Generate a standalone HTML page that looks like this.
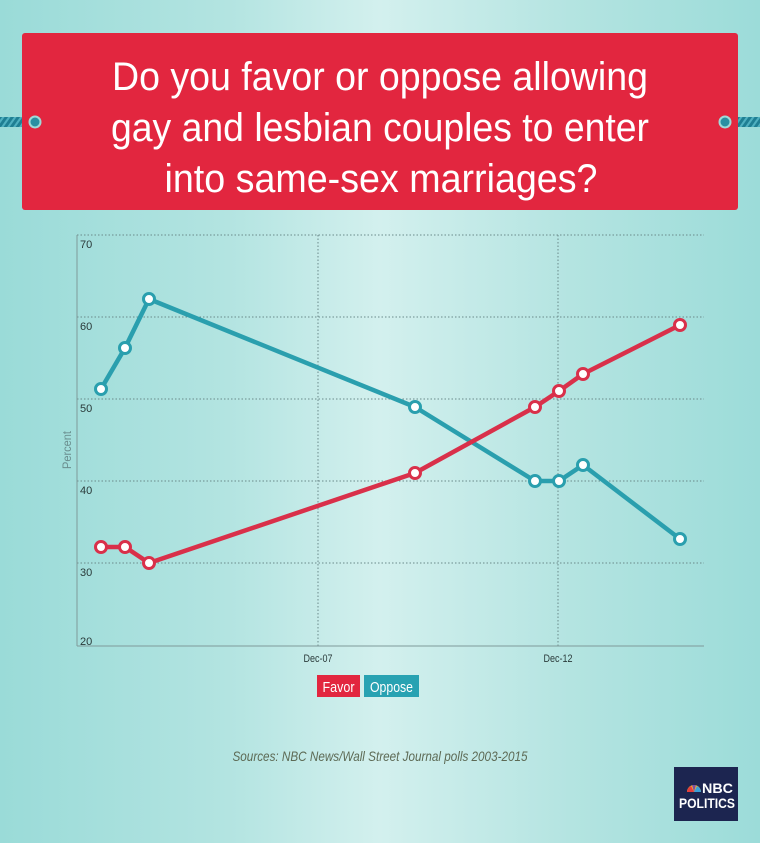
<!DOCTYPE html>
<html><head><meta charset="utf-8"><style>
html,body{margin:0;padding:0}
body{width:760px;height:843px;overflow:hidden;background:linear-gradient(90deg,#9adbd8 0%,#b3e4e1 30%,#d3f0ee 50%,#b4e4e1 75%,#9cdcd9 100%);font-family:"Liberation Sans",sans-serif}
</style></head><body>
<svg width="760" height="843" viewBox="0 0 760 843" xmlns="http://www.w3.org/2000/svg" style="position:absolute;left:0;top:0">
<defs>
<pattern id="rope" width="6" height="10" patternUnits="userSpaceOnUse" patternTransform="skewX(-35)">
<rect width="6" height="10" fill="#1f7f93"/><rect width="2.5" height="10" fill="#4fb0c0"/>
</pattern>
</defs>
<rect x="0" y="117" width="34" height="10" fill="url(#rope)"/>
<rect x="726" y="117" width="34" height="10" fill="url(#rope)"/>
<rect x="22" y="33" width="716" height="177" rx="3" fill="#e2263f"/>
<circle cx="35" cy="122" r="5.5" fill="#2a8fa2" stroke="#9fdad8" stroke-width="2"/>
<circle cx="725" cy="122" r="5.5" fill="#2a8fa2" stroke="#9fdad8" stroke-width="2"/>
<g fill="#fff" font-size="40" text-anchor="middle" font-family="Liberation Sans Narrow, Liberation Sans, sans-serif">
<text x="380" y="90" textLength="536" lengthAdjust="spacingAndGlyphs">Do you favor or oppose allowing</text>
<text x="380" y="141" textLength="538" lengthAdjust="spacingAndGlyphs">gay and lesbian couples to enter</text>
<text x="381" y="192" textLength="433" lengthAdjust="spacingAndGlyphs">into same-sex marriages?</text>
</g>
<g stroke="#6a8a8a" stroke-width="1" stroke-dasharray="1.5,2" fill="none">
<line x1="77" y1="235" x2="704" y2="235"/>
<line x1="77" y1="317" x2="704" y2="317"/>
<line x1="77" y1="399" x2="704" y2="399"/>
<line x1="77" y1="481" x2="704" y2="481"/>
<line x1="77" y1="563" x2="704" y2="563"/>
<line x1="318" y1="235" x2="318" y2="646"/>
<line x1="558" y1="235" x2="558" y2="646"/>
</g>
<line x1="77" y1="235" x2="77" y2="646" stroke="#7f9a9a" stroke-width="1"/>
<line x1="77" y1="646" x2="704" y2="646" stroke="#7f9a9a" stroke-width="1"/>
<g font-size="11" fill="#2a3a3a" font-family="Liberation Sans Narrow, Liberation Sans, sans-serif">
<text x="80" y="248">70</text><text x="80" y="330">60</text><text x="80" y="412">50</text>
<text x="80" y="494">40</text><text x="80" y="576">30</text><text x="80" y="645">20</text>
<text x="318" y="662" text-anchor="middle" textLength="29" lengthAdjust="spacingAndGlyphs">Dec-07</text>
<text x="558" y="662" text-anchor="middle" textLength="29" lengthAdjust="spacingAndGlyphs">Dec-12</text>
</g>
<text x="0" y="0" transform="translate(71,450) rotate(-90)" text-anchor="middle" font-size="12" fill="#6a8e8e" textLength="38" lengthAdjust="spacingAndGlyphs">Percent</text>
<polyline fill="none" stroke="#2a9fae" stroke-width="4.5" stroke-linejoin="round" points="101,389 125,348 149,299 415,407 535,481 559,481 583,465 680,539"/>
<polyline fill="none" stroke="#d9304a" stroke-width="4.5" stroke-linejoin="round" points="101,547 125,547 149,563 415,473 535,407 559,391 583,374 680,325"/>
<g fill="#fff" stroke="#2a9fae" stroke-width="3">
<circle cx="101" cy="389" r="5.5"/><circle cx="125" cy="348" r="5.5"/><circle cx="149" cy="299" r="5.5"/><circle cx="415" cy="407" r="5.5"/><circle cx="535" cy="481" r="5.5"/><circle cx="559" cy="481" r="5.5"/><circle cx="583" cy="465" r="5.5"/><circle cx="680" cy="539" r="5.5"/>
</g>
<g fill="#fff" stroke="#d9304a" stroke-width="3">
<circle cx="101" cy="547" r="5.5"/><circle cx="125" cy="547" r="5.5"/><circle cx="149" cy="563" r="5.5"/><circle cx="415" cy="473" r="5.5"/><circle cx="535" cy="407" r="5.5"/><circle cx="559" cy="391" r="5.5"/><circle cx="583" cy="374" r="5.5"/><circle cx="680" cy="325" r="5.5"/>
</g>
<rect x="317" y="675" width="43" height="22" fill="#e2263f"/>
<rect x="364" y="675" width="55" height="22" fill="#28a2b2"/>
<g fill="#fff" font-size="15" font-family="Liberation Sans Narrow, Liberation Sans, sans-serif" text-anchor="middle">
<text x="338.5" y="692" textLength="32" lengthAdjust="spacingAndGlyphs">Favor</text>
<text x="391.5" y="692" textLength="43" lengthAdjust="spacingAndGlyphs">Oppose</text>
</g>
<text x="380" y="761" text-anchor="middle" font-size="14" font-style="italic" fill="#5d6a55" textLength="295" lengthAdjust="spacingAndGlyphs">Sources: NBC News/Wall Street Journal polls 2003-2015</text>
<rect x="674" y="767" width="64" height="54" fill="#1c2550"/>
<g transform="translate(687,792)">
<path d="M0,0 A7,7 0 0 1 14,0 Z" fill="#f7b32b"/>
<path d="M0,0 A7,7 0 0 1 4,-6 L7,0Z" fill="#e43d3d"/>
<path d="M7,0 L10,-6 A7,7 0 0 1 14,0Z" fill="#3aa0d9"/>
<path d="M5,-7 L9,-7 L7,0Z" fill="#7b4fa0"/>
</g>
<g fill="#fff" font-weight="bold" font-family="Liberation Sans Narrow, Liberation Sans, sans-serif">
<text x="702" y="793" font-size="14" textLength="31" lengthAdjust="spacingAndGlyphs">NBC</text>
<text x="679" y="808" font-size="14" textLength="56" lengthAdjust="spacingAndGlyphs">POLITICS</text>
</g>
</svg>
</body></html>
